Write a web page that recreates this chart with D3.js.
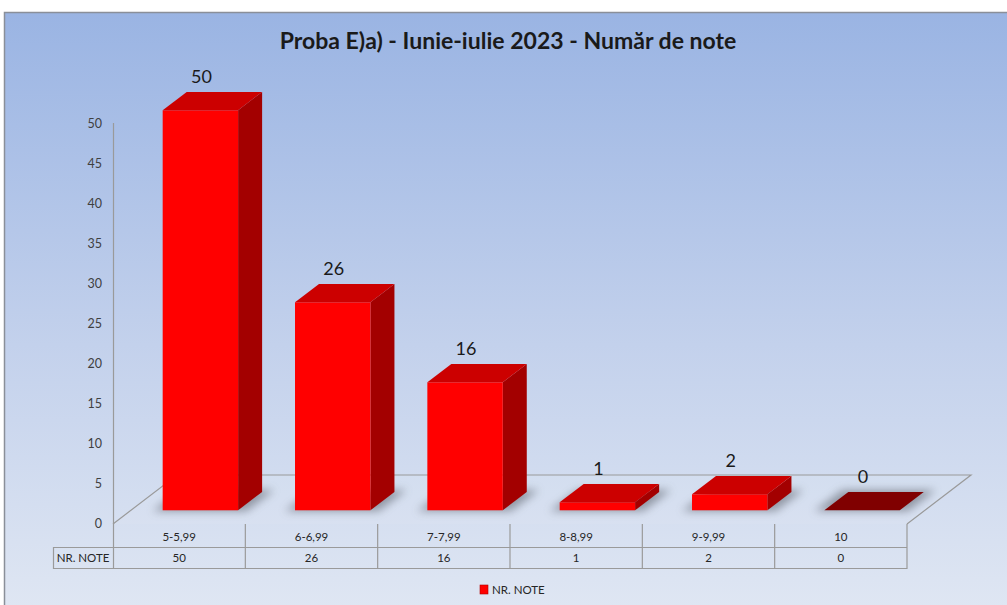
<!DOCTYPE html>
<html>
<head>
<meta charset="utf-8">
<script src="https://cdn.jsdelivr.net/npm/d3@7"></script>
<style>
  html, body { margin: 0; padding: 0; background: #fff; }
  svg { display: block; font-family: Lato, 'Open Sans', sans-serif; }
</style>
</head>
<body>
<svg id="chart" width="1007" height="605"></svg>
<script>
const categories = ['5-5,99', '6-6,99', '7-7,99', '8-8,99', '9-9,99', '10']
const values     = [50, 26, 16, 1, 2, 0]
const seriesName = 'NR. NOTE'
const yTicks     = [0, 5, 10, 15, 20, 25, 30, 35, 40, 45, 50]
const title      = 'Proba E)a) - Iunie-iulie 2023 - Număr de note'

const W = 1007, H = 605
const svg = d3.select('#chart')

// depth of the 3d floor, in px at z = 1
const DEPTH_X = 64, DEPTH_Y = -49
const Z0 = 0.28, Z1 = 0.655

const x = d3.scaleBand().domain(categories).range([113, 907])
const y = d3.scaleLinear().domain([0, 50]).range([524, 124])
const bw = x.bandwidth()

const defs = svg.append('defs')
const bg = defs.append('linearGradient').attr('id', 'bg').attr('x1', 0).attr('y1', 0).attr('x2', 0).attr('y2', 1)
bg.append('stop').attr('offset', '0%').attr('stop-color', '#9ab4e3')
bg.append('stop').attr('offset', '55%').attr('stop-color', '#c3d1ec')
bg.append('stop').attr('offset', '100%').attr('stop-color', '#e0e7f3')
defs.append('filter').attr('id', 'blur').attr('x', '-50%').attr('y', '-50%').attr('width', '200%').attr('height', '200%')
  .append('feGaussianBlur').attr('stdDeviation', 4)

// background + frame
svg.append('rect').attr('x', 4).attr('y', 12).attr('width', W).attr('height', H)
  .attr('fill', 'url(#bg)')
svg.append('path').attr('d', `M4.5,${H} V12.5 H${W}`)
  .attr('fill', 'none').attr('stroke', '#8a8f99').attr('stroke-width', 1.5)

// title
const t = svg.append('text').attr('x', 508).attr('y', 49)
  .attr('text-anchor', 'middle').attr('font-weight', 'bold').attr('font-size', 20)
  .attr('fill', '#1a1a1a').text(title)
const tl = t.node().getComputedTextLength()
t.attr('font-size', 20 * 457 / tl)

// floor
const off = z => [DEPTH_X * z, DEPTH_Y * z]
const [bx, by] = off(1)
const x0 = x.range()[0], x1 = x.range()[1], yb = y(0)
svg.append('path')
  .attr('d', `M${x0},${yb} L${x0 + bx},${yb + by} L${x1 + bx},${yb + by} L${x1},${yb}`)
  .attr('fill', 'rgba(255,255,255,0.06)').attr('stroke', '#9a9a9a').attr('stroke-width', 1.2)

// y axis
svg.append('line').attr('x1', 113.5).attr('x2', 113.5).attr('y1', y(50) - 1).attr('y2', 568)
  .attr('stroke', '#9a9a9a').attr('stroke-width', 1.2)
svg.append('g').selectAll('text').data(yTicks).enter().append('text')
  .attr('x', 102).attr('y', d => y(d)).attr('dy', '0.35em')
  .attr('text-anchor', 'end').attr('font-size', 12.5).attr('fill', '#404040')
  .text(d => d)

// bars
const [dx0, dy0] = off(Z0)
const [ddx, ddy] = [DEPTH_X * (Z1 - Z0), DEPTH_Y * (Z1 - Z0)]
const bars = categories.map((c, i) => {
  const fx0 = x(c) + bw * 0.24 + dx0
  const fx1 = fx0 + bw * 0.57
  const yt = y(values[i]) + dy0
  const yB = y(0) + dy0
  return { c, v: values[i], fx0, fx1, yt, yB }
})

const pts = a => a.map(p => p.join(',')).join(' ')

// floor shadows
svg.append('g').selectAll('polygon').data(bars).enter().append('polygon')
  .attr('points', d => pts([[d.fx0 - 10, d.yB + 1], [d.fx1 + 8, d.yB + 1], [d.fx1 + ddx + 12, d.yB + ddy - 2], [d.fx0 + ddx - 6, d.yB + ddy - 2]]))
  .attr('fill', '#5a5f68').attr('opacity', 0.55).attr('filter', 'url(#blur)')

const bar = svg.append('g').selectAll('g').data(bars).enter().append('g')
bar.filter(d => d.v > 0).append('polygon')
  .attr('points', d => pts([[d.fx1, d.yt], [d.fx1 + ddx, d.yt + ddy], [d.fx1 + ddx, d.yB + ddy], [d.fx1, d.yB]]))
  .attr('fill', '#a30000')
bar.filter(d => d.v > 0).append('rect')
  .attr('x', d => d.fx0).attr('y', d => d.yt)
  .attr('width', d => d.fx1 - d.fx0).attr('height', d => d.yB - d.yt)
  .attr('fill', '#ff0000')
bar.append('polygon')
  .attr('points', d => pts([[d.fx0, d.yt], [d.fx1, d.yt], [d.fx1 + ddx, d.yt + ddy], [d.fx0 + ddx, d.yt + ddy]]))
  .attr('fill', d => d.v > 0 ? '#cc0000' : '#800000')

// data labels
bar.append('text')
  .attr('x', d => (d.fx0 + d.fx1) / 2 + 1).attr('y', d => d.yt + ddy - 9)
  .attr('text-anchor', 'middle').attr('font-size', 18).attr('fill', '#1a1a1a')
  .text(d => d.v)

// data table
const tg = svg.append('g').attr('stroke', '#9a9a9a').attr('stroke-width', 1.2)
tg.append('line').attr('x1', 53).attr('x2', x1).attr('y1', 547.5).attr('y2', 547.5)
tg.append('line').attr('x1', 53).attr('x2', x1).attr('y1', 568.5).attr('y2', 568.5)
tg.append('line').attr('x1', 53.5).attr('x2', 53.5).attr('y1', 547).attr('y2', 569)
tg.selectAll('.col').data(categories).enter().append('line')
  .attr('x1', d => x(d) + bw).attr('x2', d => x(d) + bw).attr('y1', yb).attr('y2', 569)

svg.append('g').selectAll('text').data(categories).enter().append('text')
  .attr('x', d => x(d) + bw / 2).attr('y', 537).attr('dy', '0.35em')
  .attr('text-anchor', 'middle').attr('font-size', 11.5).attr('fill', '#262626')
  .text(d => d)
svg.append('g').selectAll('text').data(values).enter().append('text')
  .attr('x', (d, i) => x(categories[i]) + bw / 2).attr('y', 558).attr('dy', '0.35em')
  .attr('text-anchor', 'middle').attr('font-size', 11.5).attr('fill', '#262626')
  .text(d => d)
svg.append('text').attr('x', 83).attr('y', 558).attr('dy', '0.35em')
  .attr('text-anchor', 'middle').attr('font-size', 11.5).attr('fill', '#262626')
  .text(seriesName)

// legend
svg.append('rect').attr('x', 480).attr('y', 585).attr('width', 8).attr('height', 9)
  .attr('fill', '#ff0000').attr('stroke', '#b00000').attr('stroke-width', 0.6)
svg.append('text').attr('x', 492).attr('y', 590).attr('dy', '0.35em')
  .attr('font-size', 11.5).attr('fill', '#262626').text(seriesName)
</script>
</body>
</html>
